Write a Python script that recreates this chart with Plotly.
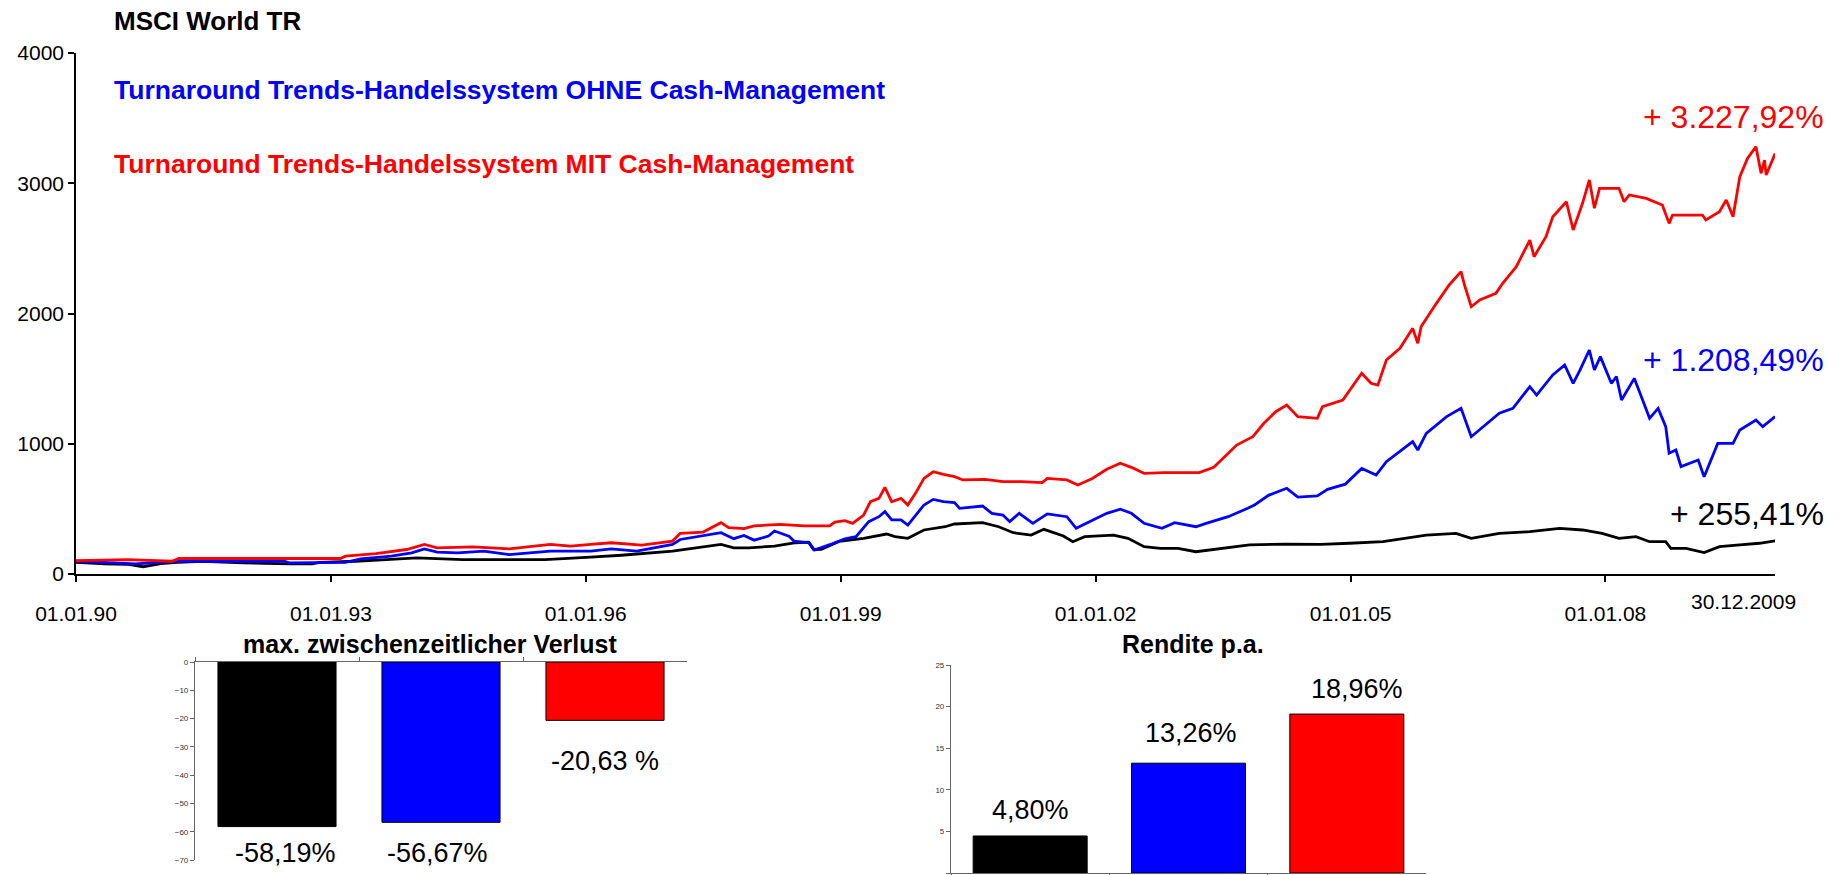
import plotly.graph_objects as go
from datetime import datetime, timedelta

W, H = 1843, 875

# ---------------- data ----------------
t_msci = [1990.0, 1990.34, 1990.6, 1990.79, 1991.0, 1991.19, 1991.49, 1991.97, 1992.51, 1992.78,
          1992.87, 1993.29, 1993.65, 1994.01, 1994.55, 1994.92, 1995.52, 1996.06, 1996.42, 1997.02,
          1997.32, 1997.59, 1997.74, 1997.92, 1998.22, 1998.47, 1998.62, 1998.68, 1998.77, 1998.98,
          1999.27, 1999.54, 1999.64, 1999.79, 1999.98, 2000.23, 2000.34, 2000.67, 2000.86, 2001.03,
          2001.24, 2001.39, 2001.62, 2001.73, 2001.87, 2002.21, 2002.38, 2002.57, 2002.76, 2002.97,
          2003.18, 2003.39, 2003.81, 2004.23, 2004.65, 2004.99, 2005.38, 2005.89, 2006.24, 2006.42,
          2006.75, 2007.11, 2007.46, 2007.73, 2007.96, 2008.16, 2008.36, 2008.52, 2008.71, 2008.77,
          2008.95, 2009.16, 2009.34, 2009.58, 2009.81, 2009.995]
v_msci = [90, 77, 75, 56, 80, 90, 98, 85, 77, 77,
          90, 98, 111, 124, 111, 111, 111, 129, 144, 175,
          201, 227, 201, 201, 214, 240, 245, 188, 190, 250,
          274, 307, 287, 274, 338, 363, 384, 395, 363, 317,
          299, 343, 292, 248, 287, 299, 274, 210, 197, 197,
          171, 189, 223, 230, 228, 236, 248, 299, 312, 274,
          312, 325, 350, 338, 312, 274, 287, 248, 248, 197,
          197, 164, 210, 223, 236, 255]

t_ohne = [1990.0, 1990.34, 1990.7, 1991.19, 1992.45, 1992.51, 1992.81, 1993.17, 1993.35, 1993.71,
          1993.95, 1994.10, 1994.25, 1994.49, 1994.80, 1995.10, 1995.58, 1996.06, 1996.30, 1996.60,
          1997.02, 1997.11, 1997.59, 1997.74, 1997.86, 1997.98, 1998.15, 1998.22, 1998.39, 1998.45,
          1998.63, 1998.69, 1998.87, 1999.05, 1999.18, 1999.33, 1999.45, 1999.52, 1999.60, 1999.71,
          1999.79, 1999.90, 1999.98, 2000.09, 2000.21, 2000.34, 2000.40, 2000.67, 2000.78, 2000.91,
          2000.99, 2001.10, 2001.26, 2001.43, 2001.66, 2001.77, 2001.96, 2002.13, 2002.29, 2002.42,
          2002.57, 2002.78, 2002.93, 2003.18, 2003.30, 2003.56, 2003.79, 2003.87, 2004.04, 2004.25,
          2004.38, 2004.61, 2004.73, 2004.94, 2005.13, 2005.30, 2005.42, 2005.73, 2005.79, 2005.89,
          2006.13, 2006.30, 2006.42, 2006.54, 2006.75, 2006.91, 2007.11, 2007.19, 2007.38, 2007.52,
          2007.62, 2007.70, 2007.81, 2007.87, 2007.94, 2008.07, 2008.13, 2008.19, 2008.34, 2008.52,
          2008.62, 2008.71, 2008.75, 2008.83, 2008.89, 2009.09, 2009.16, 2009.32, 2009.50, 2009.58,
          2009.77, 2009.85, 2009.995]
v_ohne = [98, 85, 77, 98, 98, 85, 85, 90, 116, 137,
          162, 193, 168, 162, 175, 149, 175, 175, 193, 175,
          227, 265, 317, 271, 296, 260, 291, 330, 291, 253,
          240, 183, 225, 270, 287, 402, 440, 479, 415, 415,
          376, 466, 530, 573, 555, 548, 504, 522, 466, 453,
          402, 466, 389, 461, 440, 351, 415, 466, 497, 466,
          389, 351, 394, 363, 389, 440, 504, 530, 606, 658,
          590, 600, 650, 690, 811, 760, 862, 1016, 952, 1080,
          1208, 1272, 1054, 1118, 1234, 1272, 1438, 1374, 1528, 1605,
          1464, 1566, 1720, 1566, 1669, 1464, 1515, 1336, 1502, 1195,
          1272, 1131, 927, 952, 824, 875, 747, 1003, 1003, 1106,
          1182, 1131, 1208]

t_mit = [1990.0, 1990.61, 1991.13, 1991.21, 1993.11, 1993.17, 1993.53, 1993.89, 1994.10, 1994.25,
         1994.67, 1995.10, 1995.58, 1995.82, 1996.06, 1996.30, 1996.66, 1997.02, 1997.11, 1997.38,
         1997.59, 1997.68, 1997.86, 1997.98, 1998.28, 1998.57, 1998.87, 1998.93, 1999.05, 1999.14,
         1999.27, 1999.35, 1999.45, 1999.52, 1999.60, 1999.71, 1999.79, 1999.88, 1999.98, 2000.09,
         2000.21, 2000.34, 2000.44, 2000.70, 2000.91, 2001.12, 2001.37, 2001.43, 2001.66, 2001.79,
         2001.96, 2002.13, 2002.29, 2002.42, 2002.57, 2002.80, 2003.22, 2003.39, 2003.54, 2003.66,
         2003.85, 2003.98, 2004.12, 2004.25, 2004.38, 2004.61, 2004.67, 2004.91, 2005.13, 2005.24,
         2005.32, 2005.42, 2005.58, 2005.73, 2005.79, 2005.83, 2006.01, 2006.16, 2006.30, 2006.34,
         2006.42, 2006.52, 2006.71, 2006.79, 2006.95, 2007.11, 2007.16, 2007.30, 2007.38, 2007.54,
         2007.62, 2007.73, 2007.81, 2007.87, 2007.93, 2008.16, 2008.22, 2008.28, 2008.48, 2008.67,
         2008.75, 2008.79, 2009.14, 2009.18, 2009.34, 2009.42, 2009.50, 2009.58, 2009.67, 2009.77,
         2009.83, 2009.87, 2009.89, 2009.995]
v_mit = [103, 111, 98, 119, 119, 137, 157, 188, 227, 201,
         209, 193, 227, 214, 227, 240, 222, 253, 312, 322,
         394, 356, 348, 369, 381, 369, 369, 399, 410, 389,
         453, 555, 581, 665, 555, 581, 530, 619, 734, 785,
         765, 747, 722, 727, 709, 709, 701, 734, 722, 683,
         734, 804, 850, 819, 773, 778, 778, 819, 914, 990,
         1054, 1157, 1246, 1297, 1208, 1195, 1285, 1336, 1541, 1464,
         1450, 1643, 1733, 1886, 1771, 1900, 2078, 2219, 2321, 2219,
         2052, 2104, 2155, 2232, 2360, 2564, 2436, 2590, 2743, 2858,
         2641, 2846, 3025, 2808, 2961, 2961, 2858, 2910, 2884, 2833,
         2692, 2756, 2756, 2718, 2782, 2871, 2743, 3050, 3191, 3281,
         3076, 3178, 3063, 3228]

x_tick_dates = ["1990-01-01", "1993-01-01", "1996-01-01", "1999-01-01",
                "2002-01-01", "2005-01-01", "2008-01-01"]
x_tick_text = ["01.01.90", "01.01.93", "01.01.96", "01.01.99",
               "01.01.02", "01.01.05", "01.01.08"]
y_tick_vals = [0, 1000, 2000, 3000, 4000]

end_labels = ["+ 3.227,92%", "+ 1.208,49%", "+ 255,41%"]

bar_cats = ["MSCI World TR", "OHNE Cash-Management", "MIT Cash-Management"]
dd_values = [-58.19, -56.67, -20.63]
dd_labels = ["-58,19%", "-56,67%", "-20,63 %"]
ret_values = [4.45, 13.2, 19.1]
ret_labels = ["4,80%", "13,26%", "18,96%"]

# ---------------- styling ----------------
BLACK, BLUE, RED = "#000000", "#0000FF", "#FF0000"
bar_colors = [BLACK, BLUE, RED]
FONT = "Liberation Sans, Arial, sans-serif"


def to_date(t):
    y = int(t)
    return datetime(y, 1, 1) + timedelta(days=(t - y) * 365.25)


def px(x):
    return x / W


def py(y):
    return 1 - y / H


fig = go.Figure()

for tt, vv, col in [(t_msci, v_msci, BLACK), (t_ohne, v_ohne, BLUE), (t_mit, v_mit, RED)]:
    fig.add_trace(go.Scatter(x=[to_date(t) for t in tt], y=vv, mode="lines",
                             line=dict(color=col, width=2.8), xaxis="x", yaxis="y",
                             hoverinfo="skip"))

fig.add_trace(go.Bar(x=bar_cats, y=dd_values, width=0.72,
                     marker=dict(color=bar_colors, line=dict(color="#000000", width=1)),
                     xaxis="x2", yaxis="y2"))
fig.add_trace(go.Bar(x=bar_cats, y=ret_values, width=0.72,
                     marker=dict(color=bar_colors, line=dict(color="#000000", width=1)),
                     xaxis="x3", yaxis="y3"))

annotations = []
# main title and legend texts
annotations.append(dict(text="<b>MSCI World TR</b>", x=px(112), y=py(21), xref="paper", yref="paper",
                        xanchor="left", yanchor="middle", showarrow=False,
                        font=dict(size=26, color=BLACK, family=FONT)))
annotations.append(dict(text="<b>Turnaround Trends-Handelssystem OHNE Cash-Management</b>",
                        x=px(112), y=py(90), xref="paper", yref="paper",
                        xanchor="left", yanchor="middle", showarrow=False,
                        font=dict(size=26.5, color=BLUE, family=FONT)))
annotations.append(dict(text="<b>Turnaround Trends-Handelssystem MIT Cash-Management</b>",
                        x=px(112), y=py(164), xref="paper", yref="paper",
                        xanchor="left", yanchor="middle", showarrow=False,
                        font=dict(size=26.5, color=RED, family=FONT)))
# end labels
for txt, yy, col in zip(end_labels, [117, 360, 514], [RED, BLUE, BLACK]):
    annotations.append(dict(text=txt, x=px(1826), y=py(yy), xref="paper", yref="paper",
                            xanchor="right", yanchor="middle", showarrow=False,
                            font=dict(size=32, color=col, family=FONT)))
# last date label
annotations.append(dict(text="30.12.2009", x=px(1743), y=py(601), xref="paper", yref="paper",
                        xanchor="center", yanchor="middle", showarrow=False,
                        font=dict(size=21, color=BLACK, family=FONT)))
# bar chart titles
annotations.append(dict(text="<b>max. zwischenzeitlicher Verlust</b>", x=px(430), y=py(644),
                        xref="paper", yref="paper", xanchor="center", yanchor="middle",
                        showarrow=False, font=dict(size=25, color=BLACK, family=FONT)))
annotations.append(dict(text="<b>Rendite p.a.</b>", x=px(1193), y=py(644),
                        xref="paper", yref="paper", xanchor="center", yanchor="middle",
                        showarrow=False, font=dict(size=25, color=BLACK, family=FONT)))
# bar value labels
for cat, txt, yy, dx in zip(bar_cats, dd_labels, [853, 853, 761], [8, -4, 0]):
    annotations.append(dict(text=txt, x=cat, y=py(yy), xref="x2", yref="paper", xshift=dx,
                            xanchor="center", yanchor="middle", showarrow=False,
                            font=dict(size=27, color=BLACK, family=FONT)))
for cat, txt, yy, dx in zip(bar_cats, ret_labels, [810, 733, 689], [0, 2, 10]):
    annotations.append(dict(text=txt, x=cat, y=py(yy), xref="x3", yref="paper", xshift=dx,
                            xanchor="center", yanchor="middle", showarrow=False,
                            font=dict(size=27, color=BLACK, family=FONT)))

small_tick_font = dict(size=8, color="#333333", family=FONT)

fig.update_layout(
    width=W, height=H, autosize=False,
    margin=dict(l=0, r=0, t=0, b=0, autoexpand=False),
    paper_bgcolor="white", plot_bgcolor="white",
    showlegend=False,
    font=dict(family=FONT, color=BLACK),
    annotations=annotations,
    xaxis=dict(domain=[px(76), px(1775)], anchor="y", type="date", automargin=False,
               range=["1990-01-01", "2009-12-30"],
               tickvals=x_tick_dates, ticktext=x_tick_text,
               ticks="outside", ticklen=6, tickwidth=1.5, tickcolor=BLACK,
               showline=True, linecolor=BLACK, linewidth=1.5,
               showgrid=False, zeroline=False,
               tickfont=dict(size=21, color=BLACK, family=FONT),
               ticklabelstandoff=14),
    yaxis=dict(domain=[py(574), py(53)], anchor="x", range=[0, 4000], automargin=False,
               tickvals=y_tick_vals, ticktext=[str(v) for v in y_tick_vals],
               ticks="outside", ticklen=6, tickwidth=1.5, tickcolor=BLACK,
               showline=True, linecolor=BLACK, linewidth=1.5,
               showgrid=False, zeroline=False,
               tickfont=dict(size=21, color=BLACK, family=FONT)),
    xaxis2=dict(domain=[px(195), px(687)], anchor="y2", side="top", type="category",
                automargin=False,
                range=[-0.5, 2.5], ticks="outside", tickson="boundaries", ticklen=4,
                tickcolor="#666666", showline=True, linecolor="#666666", linewidth=1.2,
                showticklabels=False, showgrid=False, zeroline=False),
    yaxis2=dict(domain=[py(860), py(662)], anchor="x2", range=[-70, 0], dtick=10,
                automargin=False,
                ticks="outside", ticklen=4, tickcolor="#666666",
                showline=True, linecolor="#666666", linewidth=1.2,
                showgrid=False, zeroline=False, tickfont=small_tick_font),
    xaxis3=dict(domain=[px(951), px(1426)], anchor="y3", side="bottom", type="category",
                automargin=False,
                range=[-0.5, 2.5], ticks="outside", tickson="boundaries", ticklen=4,
                tickcolor="#666666", showline=True, linecolor="#666666", linewidth=1.2,
                showticklabels=False, showgrid=False, zeroline=False),
    yaxis3=dict(domain=[py(873), py(665)], anchor="x3", range=[0, 25], dtick=5,
                automargin=False,
                ticks="outside", ticklen=4, tickcolor="#666666",
                showline=True, linecolor="#666666", linewidth=1.2,
                showgrid=False, zeroline=False, tickfont=small_tick_font),
)

fig.write_html("out.html", config={"displayModeBar": False},
               post_script="document.body.style.margin='0';document.body.style.overflow='hidden';")
